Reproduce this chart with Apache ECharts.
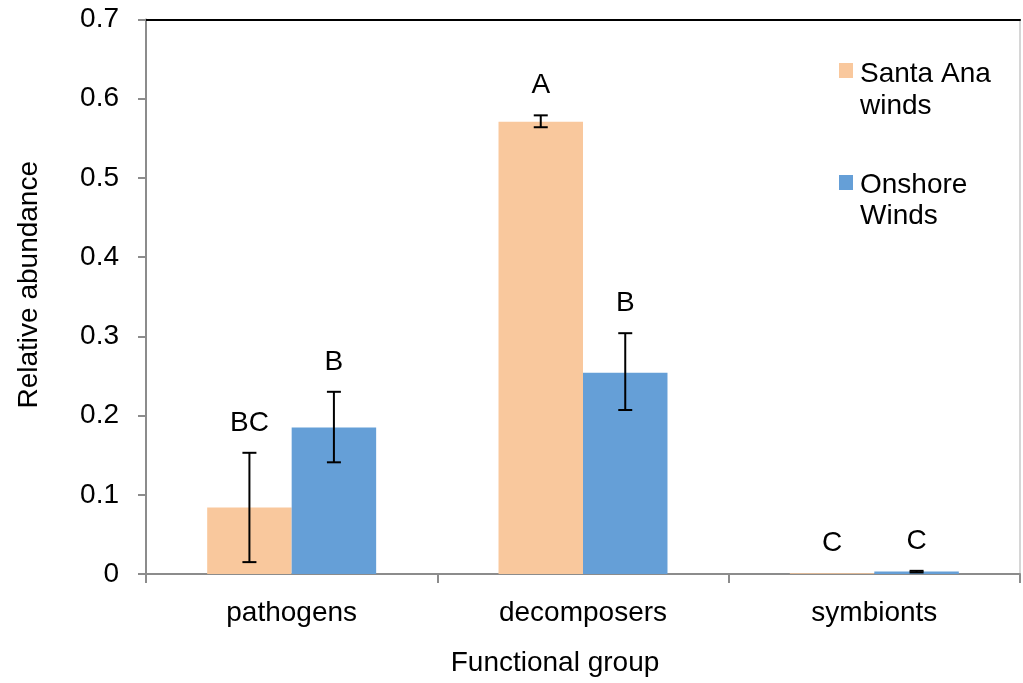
<!DOCTYPE html>
<html>
<head>
<meta charset="utf-8">
<script src="https://cdn.jsdelivr.net/npm/echarts@6/dist/echarts.min.js"></script>
<style>html,body{margin:0;padding:0;background:#fff}#c{width:1023px;height:683px}</style>
</head>
<body>
<div id="c"></div>
<script>
const categories = ['pathogens', 'decomposers', 'symbionts'];
const seriesNames = ['Santa Ana\nwinds', 'Onshore\nWinds'];
const santaAna = [0.084, 0.571, 0.001];
const santaAnaLow = [0.015, 0.564, 0.001];
const santaAnaHigh = [0.153, 0.579, 0.001];
const santaAnaLetters = ['BC', 'A', 'C'];
const onshore = [0.185, 0.254, 0.003];
const onshoreLow = [0.141, 0.207, 0.002];
const onshoreHigh = [0.230, 0.304, 0.004];
const onshoreLetters = ['B', 'B', 'C'];
const yTicks = [0, 0.1, 0.2, 0.3, 0.4, 0.5, 0.6, 0.7];

const colors = ['#F9C89D', '#659FD7'];
const FONT = 'Liberation Sans, Arial, sans-serif';
const CAT_GAP = 0.42;

function errorSeries(idx, low, high, letters) {
  return {
    type: 'custom',
    z: 5,
    data: categories.map((c, i) => [i, low[i], high[i], letters[i]]),
    renderItem: function (params, api) {
      const i = api.value(0);
      const bandW = api.size([1, 0])[0];
      const bw = bandW * (1 - CAT_GAP) / 2;
      const center = api.coord([i, 0])[0] + (idx === 0 ? -bw / 2 : bw / 2);
      const yl = api.coord([i, api.value(1)])[1];
      const yh = api.coord([i, api.value(2)])[1];
      const cap = 7;
      const st = { stroke: '#000', lineWidth: 2 };
      const children = [];
      if (api.value(2) > api.value(1)) {
        if (Math.abs(yl - yh) > 1) {
          children.push({ type: 'line', shape: { x1: center, y1: yl, x2: center, y2: yh }, style: st });
          children.push({ type: 'line', shape: { x1: center - cap, y1: yl, x2: center + cap, y2: yl }, style: st });
        }
        children.push({ type: 'line', shape: { x1: center - cap, y1: yh, x2: center + cap, y2: yh }, style: st });
      }
      children.push({
        type: 'text',
        style: {
          text: letters[i], x: center, y: yh - 30,
          align: 'center', verticalAlign: 'middle',
          font: '28px ' + FONT, fill: '#000'
        }
      });
      return { type: 'group', children: children };
    }
  };
}

const chart = echarts.init(document.getElementById('c'), null, { renderer: 'canvas' });
chart.setOption({
  animation: false,
  backgroundColor: '#fff',
  grid: { left: 146, right: 3, top: 19.5, bottom: 109, containLabel: false },
  xAxis: [{
    type: 'category',
    data: categories,
    axisLine: { onZero: false, lineStyle: { color: '#8c8c8c', width: 2 } },
    axisTick: { show: true, length: 9, lineStyle: { color: '#8c8c8c', width: 2 } },
    axisLabel: { color: '#000', fontSize: 28, fontFamily: FONT, margin: 25 },
    name: 'Functional group',
    nameLocation: 'middle',
    nameGap: 75,
    nameTextStyle: { color: '#000', fontSize: 28, fontFamily: FONT, padding: [0, 56, 0, 0] }
  }, {
    type: 'category',
    position: 'top',
    data: categories,
    axisLine: { onZero: false, lineStyle: { color: '#000', width: 2 } },
    axisTick: { show: false },
    axisLabel: { show: false }
  }],
  yAxis: [{
    type: 'value',
    min: 0, max: 0.7, interval: 0.1,
    splitLine: { show: false },
    axisLine: { show: true, onZero: false, lineStyle: { color: '#8c8c8c', width: 2 } },
    axisTick: { show: true, length: 8, lineStyle: { color: '#8c8c8c', width: 2 } },
    axisLabel: {
      color: '#000', fontSize: 28, fontFamily: FONT, margin: 27,
      formatter: v => { const t = yTicks.find(x => Math.abs(x - v) < 1e-9); return t === undefined ? '' : String(t); }
    },
    name: 'Relative abundance',
    nameLocation: 'middle',
    nameGap: 103,
    nameTextStyle: { color: '#000', fontSize: 28, fontFamily: FONT, padding: [0, 0, 0, 24] }
  }, {
    type: 'value',
    position: 'right',
    min: 0, max: 0.7, interval: 0.1,
    splitLine: { show: false },
    axisLine: { show: true, onZero: false, lineStyle: { color: '#c8c8c8', width: 1.5 } },
    axisTick: { show: false },
    axisLabel: { show: false }
  }],
  series: [{
    name: seriesNames[0],
    type: 'bar',
    data: santaAna,
    barGap: '0%',
    barCategoryGap: (CAT_GAP * 100) + '%',
    itemStyle: { color: colors[0] }
  }, {
    name: seriesNames[1],
    type: 'bar',
    data: onshore,
    barGap: '0%',
    barCategoryGap: (CAT_GAP * 100) + '%',
    itemStyle: { color: colors[1] }
  },
  errorSeries(0, santaAnaLow, santaAnaHigh, santaAnaLetters),
  errorSeries(1, onshoreLow, onshoreHigh, onshoreLetters)
  ],
  graphic: [
    { type: 'rect', left: 839, top: 63, shape: { width: 14, height: 15 }, style: { fill: colors[0] } },
    { type: 'text', left: 860, top: 58, style: { text: seriesNames[0], font: '28px ' + FONT, fill: '#000', lineHeight: 32 } },
    { type: 'rect', left: 839, top: 175, shape: { width: 14, height: 15 }, style: { fill: colors[1] } },
    { type: 'text', left: 860, top: 170, style: { text: seriesNames[1], font: '28px ' + FONT, fill: '#000', lineHeight: 31 } }
  ]
});
</script>
</body>
</html>
